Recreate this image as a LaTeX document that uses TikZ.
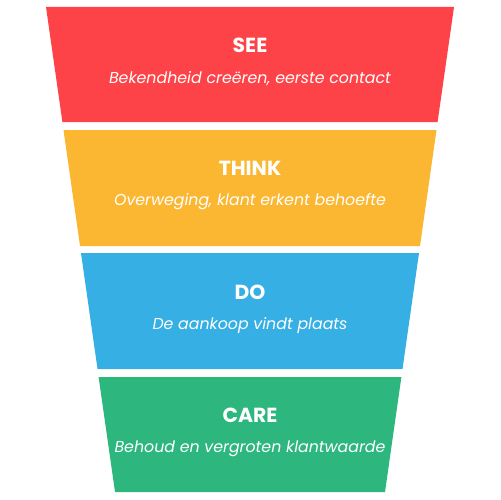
\documentclass[tikz,border=0pt]{standalone}
\usepackage{fontspec}
\setmainfont{Poppins}
\usepackage{xcolor}
\definecolor{seered}{HTML}{FE4348}
\definecolor{thinkyellow}{HTML}{FBB731}
\definecolor{doblue}{HTML}{35AFE4}
\definecolor{caregreen}{HTML}{2DB77F}

\begin{document}
\begin{tikzpicture}[x=0.02cm,y=-0.02cm,
  title/.style={text=white,font=\bfseries\fontsize{11.6}{13}\selectfont},
  sub/.style={text=white,font=\itshape\fontsize{9}{10}\selectfont}]
\useasboundingbox (0,0) rectangle (500,500);
% funnel bands
\fill[seered] (46,7) -- (454,7) -- (437.6,122) -- (62.4,122) -- cycle;
\fill[thinkyellow] (63.5,130) -- (436.5,130) -- (420,246) -- (80,246) -- cycle;
\fill[doblue] (81,253) -- (419,253) -- (402.5,369) -- (97.5,369) -- cycle;
\fill[caregreen] (98.6,377) -- (401.4,377) -- (385,492) -- (115,492) -- cycle;
% labels
\node[title] (see) at (250,45) {SEE};
\node[sub] (seetxt) at (250,79) {Bekendheid creëren, eerste contact};
\node[title] (think) at (250,168) {THINK};
\node[sub] (thinktxt) at (250,202) {Overweging, klant erkent behoefte};
\node[title] (do) at (250,292) {DO};
\node[sub] (dotxt) at (250,326) {De aankoop vindt plaats};
\node[title] (care) at (250,415) {CARE};
\node[sub] (caretxt) at (250,449) {Behoud en vergroten klantwaarde};
\end{tikzpicture}
\end{document}
